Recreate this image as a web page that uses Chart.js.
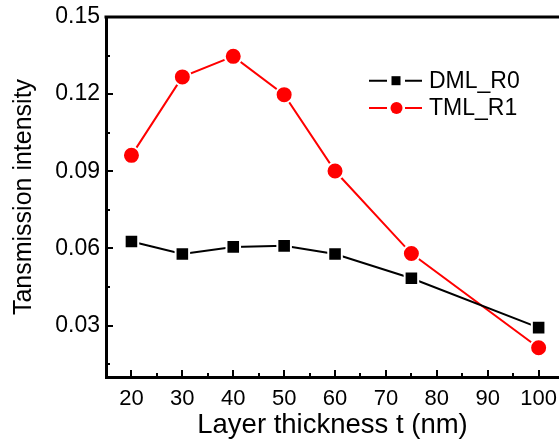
<!DOCTYPE html>
<html>
<head>
<meta charset="utf-8">
<script src="https://cdn.jsdelivr.net/npm/chart.js@4"></script>
<style>
  html, body { margin: 0; padding: 0; background: #fff; overflow: hidden; }
</style>
</head>
<body>
<canvas id="myChart" width="559" height="441"></canvas>
<script>
  // data
  var thickness = [20, 30, 40, 50, 60, 75, 100];
  var dmlR0 = [0.0627, 0.0578, 0.0606, 0.0610, 0.0578, 0.0484, 0.0292];
  var tmlR1 = [0.0962, 0.1267, 0.1347, 0.1198, 0.0901, 0.0580, 0.0214];

  var xTicks = [20, 30, 40, 50, 60, 70, 80, 90, 100];
  var xMinor = [25, 35, 45, 55, 65, 75, 85, 95];
  var yTicks = [0.03, 0.06, 0.09, 0.12, 0.15];
  var yMinor = [0.015, 0.045, 0.075, 0.105, 0.135];

  var FONT = "Arial, 'Liberation Sans', sans-serif";

  function toPoints(ys) {
    return thickness.map((x, i) => ({ x: x, y: ys[i] }));
  }

  // axes Origin style: top line, ticks pointing inside
  var originAxes = {
    id: "originAxes",
    afterDraw(chart) {
      var ctx = chart.ctx;
      var area = chart.chartArea;
      var xs = chart.scales.x;
      var ys = chart.scales.y;
      ctx.save();
      ctx.strokeStyle = "#000";
      ctx.lineWidth = 3;
      ctx.beginPath();
      ctx.moveTo(area.left - 1.5, area.top);
      ctx.lineTo(chart.width, area.top);
      ctx.stroke();

      ctx.lineWidth = 2;
      ctx.beginPath();
      xTicks.forEach((v) => {
        var px = Math.round(xs.getPixelForValue(v));
        ctx.moveTo(px, area.bottom);
        ctx.lineTo(px, area.bottom - 7);
      });
      xMinor.forEach((v) => {
        var px = Math.round(xs.getPixelForValue(v));
        ctx.moveTo(px, area.bottom);
        ctx.lineTo(px, area.bottom - 4);
      });
      yTicks.forEach((v) => {
        var py = Math.round(ys.getPixelForValue(v));
        ctx.moveTo(area.left, py);
        ctx.lineTo(area.left + 7, py);
      });
      yMinor.forEach((v) => {
        var py = Math.round(ys.getPixelForValue(v));
        ctx.moveTo(area.left, py);
        ctx.lineTo(area.left + 4, py);
      });
      ctx.stroke();
      ctx.restore();
    },
  };

  // legend like "—■— DML_R0"
  var lineLegend = {
    id: "lineLegend",
    afterDraw(chart) {
      var ctx = chart.ctx;
      var rows = [80.7, 108];
      chart.data.datasets.forEach((ds, i) => {
        var y = rows[i];
        ctx.save();
        ctx.strokeStyle = ds.borderColor;
        ctx.fillStyle = ds.backgroundColor;
        ctx.lineWidth = 2;
        ctx.beginPath();
        ctx.moveTo(369, y);
        ctx.lineTo(387, y);
        ctx.moveTo(405, y);
        ctx.lineTo(422, y);
        ctx.stroke();
        if (ds.pointStyle === "rect") {
          ctx.fillRect(391.5, y - 4.5, 9, 9);
        } else {
          ctx.beginPath();
          ctx.arc(396.5, y, 6, 0, Math.PI * 2);
          ctx.fill();
        }
        ctx.fillStyle = "#000";
        ctx.font = "23px " + FONT;
        ctx.textBaseline = "middle";
        ctx.textAlign = "left";
        ctx.fillText(ds.label, 429, y + 1);
        ctx.restore();
      });
    },
  };

  var chartOption = {
    type: "line",
    data: {
      datasets: [
        {
          label: "DML_R0",
          data: toPoints(dmlR0),
          borderColor: "#000000",
          backgroundColor: "#000000",
          borderWidth: 2,
          pointStyle: "rect",
          pointRadius: 9.6,
          pointBorderColor: "#ffffff",
          pointBorderWidth: 2,
          pointHoverRadius: 9.6,
          tension: 0,
          clip: false,
        },
        {
          label: "TML_R1",
          data: toPoints(tmlR1),
          borderColor: "#ff0000",
          backgroundColor: "#ff0000",
          borderWidth: 2,
          pointStyle: "circle",
          pointRadius: 8.5,
          pointBorderColor: "#ffffff",
          pointBorderWidth: 2,
          pointHoverRadius: 8.5,
          tension: 0,
          clip: false,
        },
      ],
    },
    options: {
      responsive: false,
      animation: false,
      layout: { autoPadding: false, padding: { top: 17, right: 0, left: 0, bottom: 0 } },
      plugins: {
        legend: { display: false },
        tooltip: { enabled: false },
      },
      scales: {
        x: {
          type: "linear",
          min: 15,
          max: 104,
          afterBuildTicks: (scale) => {
            scale.ticks = xTicks.map((v) => ({ value: v }));
          },
          afterFit: (scale) => {
            scale.height = 64;
            scale.paddingLeft = 0;
            scale.paddingRight = 0;
          },
          grid: { display: false, drawTicks: false },
          border: { display: true, width: 3, color: "#000" },
          ticks: {
            color: "#000",
            font: { family: FONT, size: 22 },
            padding: 9,
            maxRotation: 0,
            autoSkip: false,
          },
          title: {
            display: true,
            text: "Layer thickness t (nm)",
            color: "#000",
            font: { family: FONT, size: 27.5, lineHeight: 1 },
            padding: { top: 0, bottom: 2 },
          },
        },
        y: {
          min: 0.01,
          max: 0.15,
          afterBuildTicks: (scale) => {
            scale.ticks = yTicks.map((v) => ({ value: v }));
          },
          afterFit: (scale) => {
            scale.width = 106;
            scale.paddingTop = 0;
            scale.paddingBottom = 0;
          },
          grid: { display: false, drawTicks: false },
          border: { display: true, width: 3, color: "#000" },
          ticks: {
            color: "#000",
            font: { family: FONT, size: 23 },
            padding: 6,
            callback: (v) => v.toFixed(2),
          },
          title: {
            display: true,
            text: "Tansmission intensity",
            color: "#000",
            font: { family: FONT, size: 25, lineHeight: 1 },
            padding: { top: 11.5, bottom: 0 },
          },
        },
      },
    },
    plugins: [originAxes, lineLegend],
  };

  var ctx = document.getElementById("myChart").getContext("2d");
  var chart = new Chart(ctx, chartOption);
</script>
</body>
</html>
